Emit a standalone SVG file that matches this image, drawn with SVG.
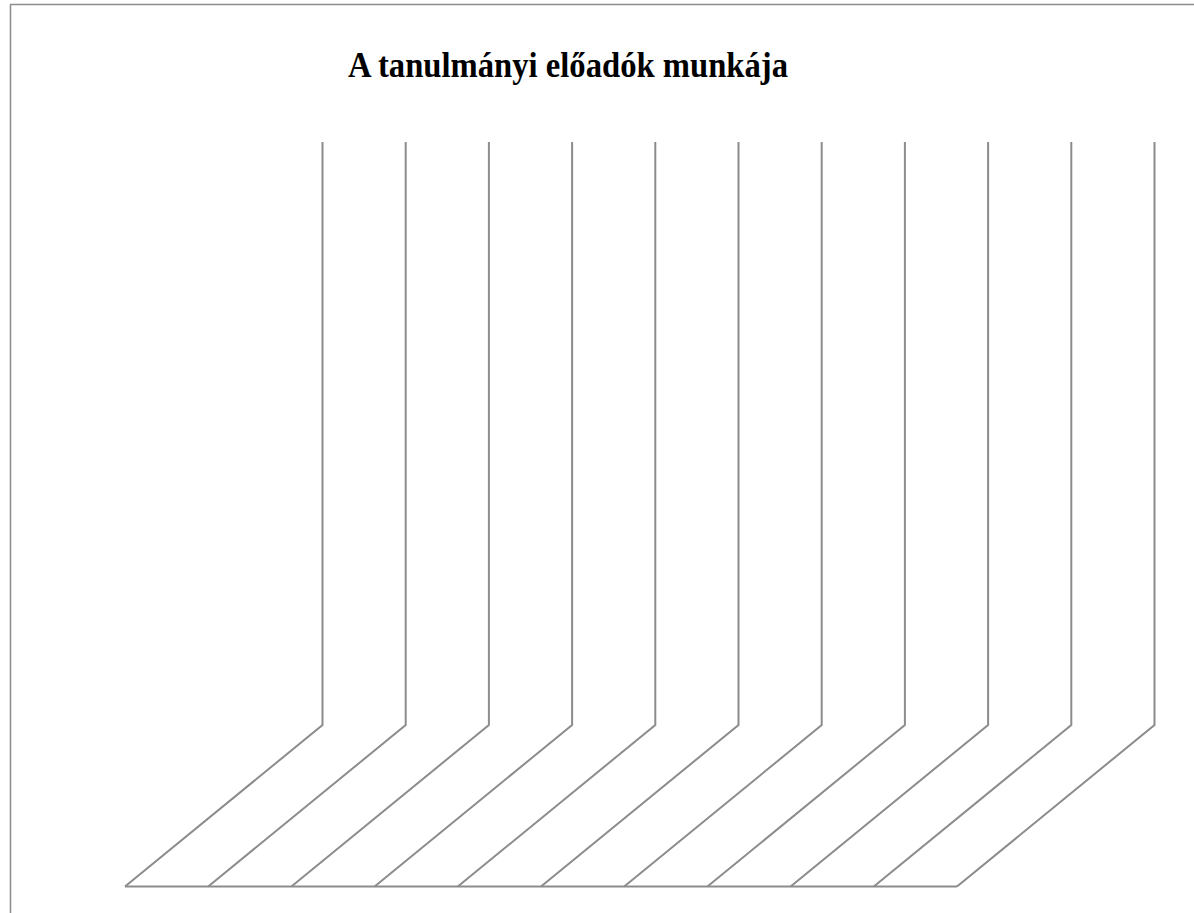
<svg xmlns="http://www.w3.org/2000/svg" width="1194" height="913" viewBox="0 0 1194 913">
<style>
.frame{fill:none;stroke:#8c8c8c;stroke-width:1.5}
.title{font-family:"Liberation Serif","Times New Roman",serif;font-weight:bold;font-size:35px;fill:#000}
.ln{fill:none;stroke:#8c8c8c;stroke-width:2;stroke-linejoin:miter}
</style>
<rect width="1194" height="913" fill="#fff"/>
<rect class="frame" x="10.5" y="4.5" width="1200" height="920"/>
<g id="title"><text class="title" x="568" y="77" text-anchor="middle" textLength="440" lengthAdjust="spacingAndGlyphs">A tanulmányi előadók munkája</text></g>
<g id="connectors">
<path class="ln" d="M322.5,142 V725 L125,886.5"/>
<path class="ln" d="M405.7,142 V725 L208.2,886.5"/>
<path class="ln" d="M488.9,142 V725 L291.4,886.5"/>
<path class="ln" d="M572.1,142 V725 L374.6,886.5"/>
<path class="ln" d="M655.3,142 V725 L457.8,886.5"/>
<path class="ln" d="M738.5,142 V725 L541,886.5"/>
<path class="ln" d="M821.7,142 V725 L624.2,886.5"/>
<path class="ln" d="M904.9,142 V725 L707.4,886.5"/>
<path class="ln" d="M988.1,142 V725 L790.6,886.5"/>
<path class="ln" d="M1071.3,142 V725 L873.8,886.5"/>
<path class="ln" d="M1154.5,142 V725 L957,886.5"/>
<path class="ln" d="M125,886.5 H957"/>
</g>
</svg>
